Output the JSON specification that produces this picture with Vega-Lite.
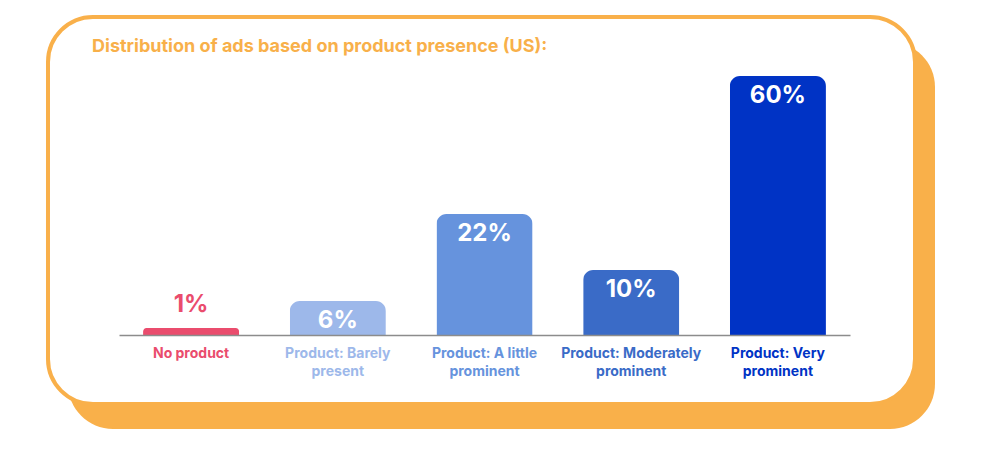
{
  "$schema": "https://vega.github.io/schema/vega-lite/v6.json",
  "width": 867,
  "height": 387,
  "autosize": {"type": "none"},
  "padding": {"left": 48, "top": 17, "right": 74, "bottom": 45},
  "background": "white",
  "config": {
    "view": {"fill": null, "stroke": null},
    "font": "Inter"
  },
  "title": {
    "text": "Distribution of ads based on product presence (US):",
    "anchor": "start",
    "frame": "group",
    "offset": 0,
    "dx": 44,
    "dy": 55,
    "fontSize": 18,
    "fontWeight": "bold",
    "color": "#F8B04A",
    "font": "Inter",
    "baseline": "alphabetic"
  },
  "data": {
    "values": [
      {"category": "No product", "share": 0.01},
      {"category": "Product: Barely present", "share": 0.06},
      {"category": "Product: A little prominent", "share": 0.22},
      {"category": "Product: Moderately prominent", "share": 0.10},
      {"category": "Product: Very prominent", "share": 0.60}
    ]
  },
  "layer": [
    {
      "data": {"values": [{}]},
      "mark": {"type": "rect", "fill": "#F9B04A", "cornerRadius": 45, "xOffset": 20, "x2Offset": 20, "yOffset": 25, "y2Offset": 25},
      "encoding": {"x": {"value": 0}, "x2": {"value": "width"}, "y": {"value": 0}, "y2": {"value": "height"}}
    },
    {
      "data": {"values": [{}]},
      "mark": {"type": "rect", "fill": "white", "stroke": "#F9B04A", "strokeWidth": 4, "cornerRadius": 45},
      "encoding": {}
    },
    {
      "layer": [
        {
          "mark": {"type": "bar", "cornerRadiusTopLeft": 10, "cornerRadiusTopRight": 10},
          "encoding": {
            "color": {
              "field": "category",
              "type": "nominal",
              "legend": null,
              "scale": {
                "domain": ["No product", "Product: Barely present", "Product: A little prominent", "Product: Moderately prominent", "Product: Very prominent"],
                "range": ["#EA4C6D", "#9DB8EA", "#6693DD", "#3A6BC7", "#0033C5"]
              }
            }
          }
        },
        {
          "transform": [{"filter": "datum.share >= 0.02"}],
          "mark": {"type": "text", "color": "white", "fontSize": 24, "fontWeight": "bold", "font": "Inter", "baseline": "alphabetic", "dy": 27},
          "encoding": {"text": {"field": "share", "type": "quantitative", "format": ".0%"}}
        },
        {
          "transform": [{"filter": "datum.share < 0.02"}],
          "mark": {"type": "text", "color": "#EA4C6D", "fontSize": 24, "fontWeight": "bold", "font": "Inter", "baseline": "alphabetic", "dy": -16},
          "encoding": {"text": {"field": "share", "type": "quantitative", "format": ".0%"}}
        }
      ],
      "encoding": {
        "x": {
          "field": "category",
          "type": "nominal",
          "sort": null,
          "scale": {"range": [71, 802], "paddingInner": 0.345, "paddingOuter": 0.164},
          "axis": {
            "title": null,
            "zindex": 1,
            "domainColor": "#8c8c8c",
            "domainWidth": 1.5,
            "ticks": false,
            "grid": false,
            "labelAngle": 0,
            "labelFont": "Inter",
            "labelFontSize": 14,
            "labelFontWeight": "bold",
            "labelPadding": 11,
            "labelLineHeight": 18,
            "labelBaseline": "top",
            "labelLimit": 250,
            "offset": -69,
            "labelExpr": "indexof(datum.label, ':') > 0 ? [slice(datum.label, 0, lastindexof(datum.label, ' ')), slice(datum.label, lastindexof(datum.label, ' ') + 1)] : datum.label",
            "labelColor": {
              "condition": [
                {"test": "datum.value == 'No product'", "value": "#EA4C6D"},
                {"test": "datum.value == 'Product: Barely present'", "value": "#9DB8EA"},
                {"test": "datum.value == 'Product: A little prominent'", "value": "#6693DD"},
                {"test": "datum.value == 'Product: Moderately prominent'", "value": "#3A6BC7"}
              ],
              "value": "#0033C5"
            }
          }
        },
        "y": {
          "field": "share",
          "type": "quantitative",
          "scale": {"domain": [0, 0.01, 0.06, 0.10, 0.22, 0.60], "range": [318, 311, 284, 253, 197, 59], "nice": false, "zero": false},
          "axis": null
        }
      }
    }
  ]
}
